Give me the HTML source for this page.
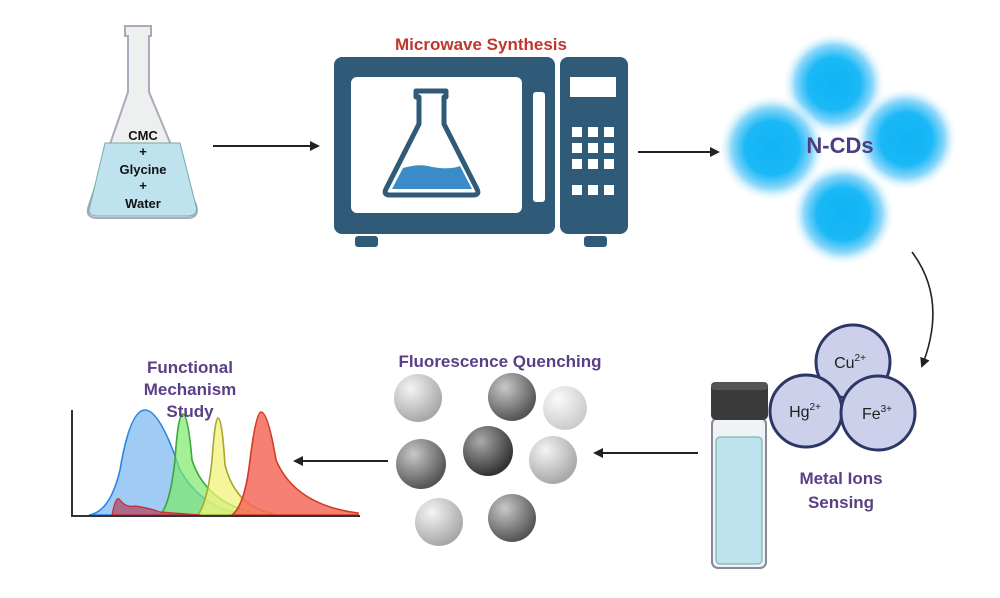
<!DOCTYPE html>
<html><head><meta charset="utf-8"><style>
body{margin:0;background:#fff;}
svg{display:block}
text{font-family:"Liberation Sans",sans-serif;font-weight:bold}
</style></head><body>
<svg width="1000" height="598" viewBox="0 0 1000 598" xmlns="http://www.w3.org/2000/svg">
<defs>
<marker id="ah" markerWidth="10" markerHeight="10" refX="8" refY="5" orient="auto" markerUnits="userSpaceOnUse"><path d="M0,0 L10,5 L0,10 z" fill="#222"/></marker>
<radialGradient id="blob"><stop offset="0" stop-color="#0fb4f6"/><stop offset="0.5" stop-color="#1ab8f6"/><stop offset="0.75" stop-color="#8fd8fa"/><stop offset="1" stop-color="#ffffff" stop-opacity="0"/></radialGradient>
<radialGradient id="g1" cx="35%" cy="30%" r="70%"><stop offset="0" stop-color="#f4f4f4"/><stop offset="1" stop-color="#a8a8a8"/></radialGradient>
<radialGradient id="g2" cx="35%" cy="30%" r="70%"><stop offset="0" stop-color="#c8c8c8"/><stop offset="1" stop-color="#555"/></radialGradient>
<radialGradient id="g3" cx="35%" cy="30%" r="70%"><stop offset="0" stop-color="#aaa"/><stop offset="1" stop-color="#333"/></radialGradient>
<radialGradient id="g4" cx="35%" cy="30%" r="70%"><stop offset="0" stop-color="#fafafa"/><stop offset="1" stop-color="#ccc"/></radialGradient>
</defs>

<!-- Flask -->
<path d="M125,26 L151,26 L151,36 L149,36 L149,92 L196,205 Q200,218 187,218 L98,218 Q84,218 89,205 L128,92 L128,36 L125,36 Z" fill="#eef0f0" stroke="#aab" stroke-width="2"/>
<path d="M105,143 L180,143 L196,206 Q199,216 187,216 L98,216 Q86,216 90,206 Z" fill="#bfe2ef" stroke="#7aa" stroke-width="1"/>
<text x="143" y="140" font-size="13" text-anchor="middle" fill="#111">CMC</text>
<text x="143" y="156" font-size="13" text-anchor="middle" fill="#111">+</text>
<text x="143" y="174" font-size="13" text-anchor="middle" fill="#111">Glycine</text>
<text x="143" y="190" font-size="13" text-anchor="middle" fill="#111">+</text>
<text x="143" y="208" font-size="13" text-anchor="middle" fill="#111">Water</text>

<line x1="213" y1="146" x2="318" y2="146" stroke="#222" stroke-width="2" marker-end="url(#ah)"/>

<!-- Microwave -->
<text x="481" y="50" font-size="17" text-anchor="middle" fill="#c0362c">Microwave Synthesis</text>
<rect x="334" y="57" width="221" height="177" rx="8" fill="#2f5a78"/>
<rect x="560" y="57" width="68" height="177" rx="8" fill="#2f5a78"/>
<rect x="351" y="77" width="171" height="136" rx="6" fill="#fff"/>
<rect x="533" y="92" width="12" height="110" rx="3" fill="#fff"/>
<rect x="570" y="77" width="46" height="20" fill="#fff"/>
<g fill="#fff">
<rect x="572" y="127" width="10" height="10"/><rect x="588" y="127" width="10" height="10"/><rect x="604" y="127" width="10" height="10"/>
<rect x="572" y="143" width="10" height="10"/><rect x="588" y="143" width="10" height="10"/><rect x="604" y="143" width="10" height="10"/>
<rect x="572" y="159" width="10" height="10"/><rect x="588" y="159" width="10" height="10"/><rect x="604" y="159" width="10" height="10"/>
<rect x="572" y="185" width="10" height="10"/><rect x="588" y="185" width="10" height="10"/><rect x="604" y="185" width="10" height="10"/>
</g>
<rect x="355" y="236" width="23" height="11" rx="3" fill="#2f5a78"/>
<rect x="584" y="236" width="23" height="11" rx="3" fill="#2f5a78"/>
<path d="M416,91 L446,91 L446,97 L444,97 L444,124 L477,189 Q480,195 473,195 L390,195 Q383,195 386,189 L419,124 L419,97 L416,97 Z" fill="none" stroke="#2f5a78" stroke-width="5" stroke-linejoin="round"/>
<path d="M403,168 Q420,163 432,167 Q450,170 460,166 L472,189 L392,189 Z" fill="#3a8cc8"/>

<line x1="638" y1="152" x2="718" y2="152" stroke="#222" stroke-width="2" marker-end="url(#ah)"/>

<!-- N-CDs -->
<circle cx="834" cy="84" r="52" fill="url(#blob)"/>
<circle cx="772" cy="148" r="54" fill="url(#blob)"/>
<circle cx="906" cy="139" r="52" fill="url(#blob)"/>
<circle cx="843" cy="214" r="52" fill="url(#blob)"/>
<text x="840" y="153" font-size="22" text-anchor="middle" fill="#4a3d80">N-CDs</text>

<path d="M912,252 Q948,300 922,366" fill="none" stroke="#222" stroke-width="1.6" marker-end="url(#ah)"/>

<!-- Metal ions -->
<g fill="#ccd0ea" stroke="#2d3766" stroke-width="3">
<circle cx="853" cy="362" r="37"/>
<circle cx="806" cy="411" r="36"/>
<circle cx="878" cy="413" r="37"/>
</g>
<text x="850" y="368" font-size="16" style="font-weight:normal" text-anchor="middle" fill="#222">Cu<tspan font-size="10" dy="-7">2+</tspan></text>
<text x="805" y="417" font-size="16" style="font-weight:normal" text-anchor="middle" fill="#222">Hg<tspan font-size="10" dy="-7">2+</tspan></text>
<text x="877" y="419" font-size="16" style="font-weight:normal" text-anchor="middle" fill="#222">Fe<tspan font-size="10" dy="-7">3+</tspan></text>
<text x="841" y="484" font-size="17" text-anchor="middle" fill="#5b3f86">Metal Ions</text>
<text x="841" y="508" font-size="17" text-anchor="middle" fill="#5b3f86">Sensing</text>

<!-- Vial -->
<rect x="712" y="418" width="54" height="150" rx="6" fill="#f0f3f5" stroke="#889" stroke-width="2"/>
<rect x="716" y="437" width="46" height="127" rx="4" fill="#bfe2ef" stroke="#6a9" stroke-width="1"/>
<rect x="711" y="382" width="57" height="38" rx="5" fill="#3a3a3a"/>
<rect x="711" y="382" width="57" height="8" rx="4" fill="#555"/>

<line x1="698" y1="453" x2="595" y2="453" stroke="#222" stroke-width="2" marker-end="url(#ah)"/>

<!-- Quenching -->
<text x="500" y="367" font-size="17" text-anchor="middle" fill="#5b3f86">Fluorescence Quenching</text>
<circle cx="418" cy="398" r="24" fill="url(#g1)"/>
<circle cx="512" cy="397" r="24" fill="url(#g2)"/>
<circle cx="565" cy="408" r="22" fill="url(#g4)"/>
<circle cx="421" cy="464" r="25" fill="url(#g2)"/>
<circle cx="488" cy="451" r="25" fill="url(#g3)"/>
<circle cx="553" cy="460" r="24" fill="url(#g1)"/>
<circle cx="439" cy="522" r="24" fill="url(#g1)"/>
<circle cx="512" cy="518" r="24" fill="url(#g2)"/>

<line x1="388" y1="461" x2="295" y2="461" stroke="#222" stroke-width="2" marker-end="url(#ah)"/>

<!-- Spectra -->
<path d="M89,515 Q110,512 120,470 Q130,410 145,410 Q160,410 180,470 Q200,505 235,512 L240,515 Z" fill="#8ec2f2" fill-opacity="0.85" stroke="#2a86e0" stroke-width="1.6"/>
<path d="M160,515 Q170,505 175,460 Q178,414 183,414 Q188,414 192,460 Q205,500 250,512 L255,515 Z" fill="#7de96a" fill-opacity="0.7" stroke="#3aa83a" stroke-width="1.6"/>
<path d="M198,515 Q208,500 212,460 Q215,418 218,418 Q222,418 225,465 Q235,505 270,513 L275,515 Z" fill="#f2f27a" fill-opacity="0.75" stroke="#a8a830" stroke-width="1.6"/>
<path d="M232,515 Q245,505 250,460 Q256,412 261,412 Q268,412 276,460 Q295,505 358,513 L358,515 Z" fill="#f46a5a" fill-opacity="0.85" stroke="#d03a20" stroke-width="1.6"/>
<path d="M112,515 Q116,494 120,500 Q126,508 135,506 Q150,508 160,512 L200,515 Z" fill="#b05070" fill-opacity="0.8" stroke="#c03030" stroke-width="1.2"/>
<polyline points="72,410 72,516 360,516" fill="none" stroke="#333" stroke-width="2"/>
<text x="190" y="373" font-size="17" text-anchor="middle" fill="#5b3f86">Functional</text>
<text x="190" y="395" font-size="17" text-anchor="middle" fill="#5b3f86">Mechanism</text>
<text x="190" y="417" font-size="17" text-anchor="middle" fill="#5b3f86">Study</text>
</svg>
</body></html>
